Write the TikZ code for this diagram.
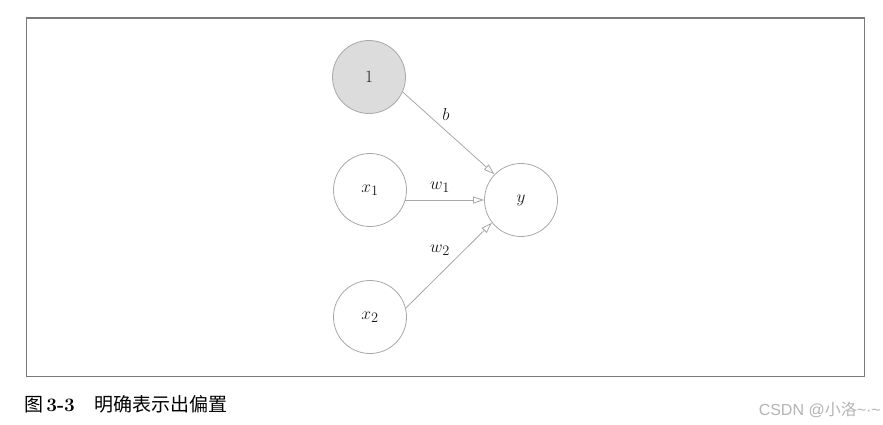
\documentclass[tikz,border=0pt]{standalone}
\usepackage{fontspec}
\usetikzlibrary{arrows.meta}
\newfontfamily\cjk{Noto Sans CJK SC}
\newfontfamily\wmfont{Liberation Sans}
\definecolor{framegray}{HTML}{7A7A7A}
\definecolor{linegray}{HTML}{A8A8A8}
\definecolor{fillgray}{HTML}{DCDCDC}
\definecolor{textdark}{HTML}{1A1A1A}
\definecolor{wmgray}{HTML}{B4B4B4}
\tikzset{
  neuron/.style={circle, draw=linegray, line width=0.8pt, minimum size=73pt, inner sep=0pt,
    text=textdark, font=\fontsize{19}{22}\selectfont},
  biasnode/.style={neuron, fill=fillgray},
  conn/.style={draw=linegray, line width=0.8pt, -{Triangle[open, length=11pt, width=7pt]}},
  wlabel/.style={text=textdark, font=\fontsize{19}{22}\selectfont, inner sep=0pt},
}
\begin{document}
\begin{tikzpicture}[x=1pt,y=-1pt]
\useasboundingbox (0,0) rectangle (883,425);
\fill[white] (0,0) rectangle (883,425);
\node[draw=framegray, line width=1.5pt, minimum width=838pt, minimum height=358pt, inner sep=0pt, anchor=north west] (frame) at (25.5,17.5) {};
\node[biasnode] (one) at (369,77) {$1$};
\node[neuron] (x1) at (370,190) {$x_1$};
\node[neuron] (x2) at (370,317) {$x_2$};
\node[neuron] (y) at (521,200) {$y$};
\draw[conn] (one.-24) -- (y.136);
\draw[conn] (x1.-17 |- y.west) -- (y.west);
\draw[conn] (x2.14) -- (y.218);
\node[wlabel] (lb) at (446,115) {$b$};
\node[wlabel] (lw1) at (440,187) {$w_1$};
\node[wlabel] (lw2) at (440,250) {$w_2$};
\node[anchor=west, inner sep=0pt, text=black, font=\fontsize{19}{22}\selectfont] (cap) at (24,404)
  {{\cjk 图}\,\textbf{3-3}\hspace{20pt}{\cjk 明确表示出偏置}};
\node[anchor=east, inner sep=0pt, text=wmgray, font=\fontsize{16}{19}\selectfont] (wm) at (881,410)
  {{\wmfont CSDN @}{\cjk 小洛}{\wmfont \char`\~·\char`\~}};
\end{tikzpicture}
\end{document}
